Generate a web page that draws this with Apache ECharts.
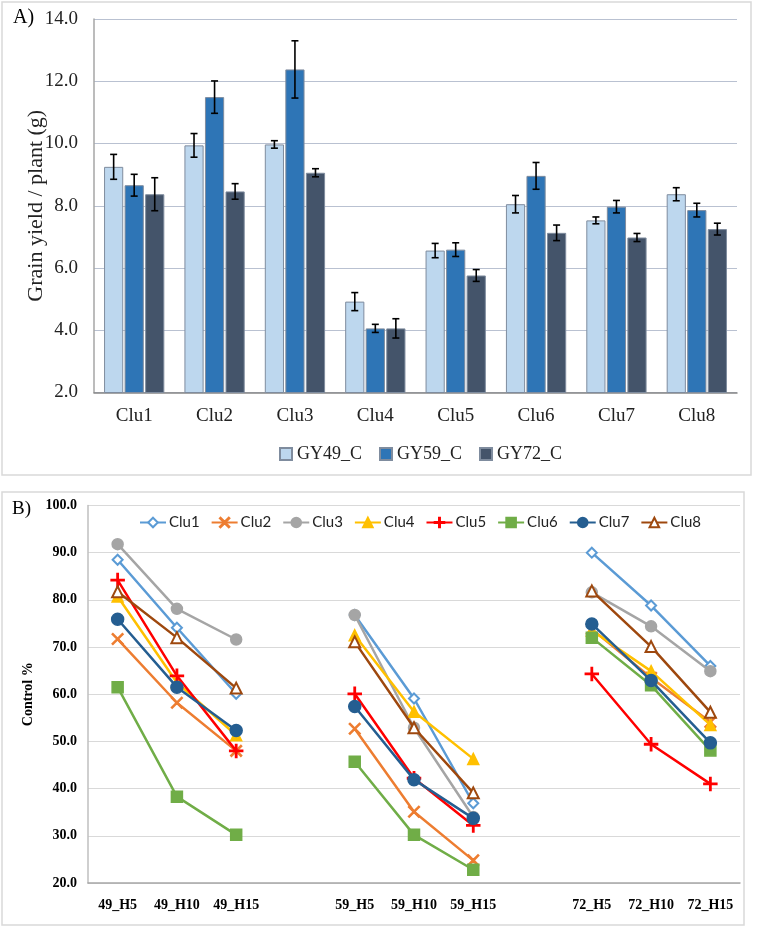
<!DOCTYPE html>
<html>
<head>
<meta charset="utf-8">
<script src="https://cdn.jsdelivr.net/npm/echarts@6/dist/echarts.min.js"></script>
<style>html,body{margin:0;padding:0;background:#fff}#c{width:758px;height:928px}</style>
</head>
<body>
<div id="c"></div>
<script>
// ---- Panel A data ----
const categories = ['Clu1','Clu2','Clu3','Clu4','Clu5','Clu6','Clu7','Clu8'];
const gy49 = [9.25, 9.94, 9.97, 4.92, 6.56, 8.05, 7.53, 8.37];
const gy49Err = [0.40, 0.38, 0.12, 0.29, 0.23, 0.28, 0.11, 0.21];
const gy59 = [8.66, 11.49, 12.38, 4.06, 6.59, 8.96, 7.97, 7.86];
const gy59Err = [0.35, 0.52, 0.92, 0.13, 0.22, 0.43, 0.20, 0.22];
const gy72 = [8.37, 8.46, 9.06, 4.06, 5.76, 7.13, 6.98, 7.25];
const gy72Err = [0.53, 0.25, 0.13, 0.31, 0.19, 0.25, 0.13, 0.19];
const barNames = ['GY49_C','GY59_C','GY72_C'];

// ---- Panel B data ----
const stages = ['49_H5','49_H10','49_H15','','59_H5','59_H10','59_H15','','72_H5','72_H10','72_H15'];
const clu1 = [88.5,74.1,60.1,null,76.8,59.1,36.9,null,90.0,78.8,66.0];
const clu2 = [71.7,58.2,48.0,null,52.7,35.1,24.8,null,73.8,63.5,54.1];
const clu3 = [91.8,78.1,71.6,null,76.8,52.9,34.0,null,81.6,74.4,64.9];
const clu4 = [80.7,62.5,51.3,null,72.5,56.3,46.3,null,73.5,64.9,53.5];
const clu5 = [84.2,63.9,48.0,null,60.1,42.2,32.2,null,64.3,49.4,41.0];
const clu6 = [61.5,38.3,30.2,null,45.7,30.2,22.8,null,72.0,61.9,48.1];
const clu7 = [75.9,61.5,52.3,null,57.4,41.9,33.7,null,74.9,62.9,49.7];
const clu8 = [81.7,72.0,61.3,null,71.1,52.9,39.1,null,81.9,70.1,56.2];
const lineNames = ['Clu1','Clu2','Clu3','Clu4','Clu5','Clu6','Clu7','Clu8'];

const SERIF = '"Liberation Serif","Times New Roman",serif';
const SANS = 'Lato,"Liberation Sans",sans-serif';
const barColors = ['#BDD7EE','#2E75B6','#44546A'];
const CAT_GAP = 0.25, BAR_GAP = 0.07;

function errSeries(vals, errs, idx) {
  return {
    type: 'custom', xAxisIndex: 0, yAxisIndex: 0, z: 5, silent: true,
    data: vals.map((v, i) => [i, v, errs[i]]),
    encode: { x: 0, y: 1 },
    renderItem: function (params, api) {
      const i = api.value(0), v = api.value(1), e = api.value(2);
      const band = api.size([1, 0])[0];
      const bw = band * (1 - CAT_GAP) / (3 + 2 * BAR_GAP);
      const off = (idx - 1) * bw * (1 + BAR_GAP);
      const hi = api.coord([i, v + e]);
      const lo = api.coord([i, v - e]);
      const x = hi[0] + off, c = 3.5;
      const st = { stroke: '#000', lineWidth: 1.6 };
      return { type: 'group', children: [
        { type: 'line', shape: { x1: x, y1: hi[1], x2: x, y2: lo[1] }, style: st },
        { type: 'line', shape: { x1: x - c, y1: hi[1], x2: x + c, y2: hi[1] }, style: st },
        { type: 'line', shape: { x1: x - c, y1: lo[1], x2: x + c, y2: lo[1] }, style: st }
      ]};
    }
  };
}

const xPath = 'path://M0,0.7 L0.7,0 L5,4.3 L9.3,0 L10,0.7 L5.7,5 L10,9.3 L9.3,10 L5,5.7 L0.7,10 L0,9.3 L4.3,5 Z';
const plusPath = 'path://M4.5,0 H5.5 V4.5 H10 V5.5 H5.5 V10 H4.5 V5.5 H0 V4.5 H4.5 Z';
const lineStyles = [
  { color: '#5B9BD5', symbol: 'emptyDiamond', size: 10 },
  { color: '#ED7D31', symbol: xPath, size: 11 },
  { color: '#A5A5A5', symbol: 'circle', size: 11 },
  { color: '#FFC000', symbol: 'triangle', size: 11 },
  { color: '#FF0000', symbol: plusPath, size: 13 },
  { color: '#70AD47', symbol: 'rect', size: 11 },
  { color: '#255E91', symbol: 'circle', size: 12 },
  { color: '#9E480E', symbol: 'emptyTriangle', size: 11 }
];
const lineData = [clu1, clu2, clu3, clu4, clu5, clu6, clu7, clu8];

const chart = echarts.init(document.getElementById('c'), null, { renderer: 'canvas' });
const series = [];
[gy49, gy59, gy72].forEach((vals, k) => {
  series.push({
    name: barNames[k], type: 'bar', xAxisIndex: 0, yAxisIndex: 0, data: vals,
    barCategoryGap: (CAT_GAP * 100) + '%', barGap: (BAR_GAP * 100) + '%',
    itemStyle: { color: barColors[k], borderColor: '#7F8C9E', borderWidth: 1 }
  });
});
series.push(errSeries(gy49, gy49Err, 0), errSeries(gy59, gy59Err, 1), errSeries(gy72, gy72Err, 2));
lineData.forEach((d, k) => {
  const s = lineStyles[k];
  series.push({
    name: lineNames[k], type: 'line', xAxisIndex: 1, yAxisIndex: 1, data: d,
    symbol: s.symbol, symbolSize: s.size, showAllSymbol: true, connectNulls: false,
    lineStyle: { color: s.color, width: 2.5 },
    itemStyle: { color: s.color, borderColor: s.color, borderWidth: 1.5 },
    z: 3 + k
  });
});

chart.setOption({
  animation: false,
  backgroundColor: '#fff',
  graphic: [
    { type: 'rect', shape: { x: 2, y: 2, width: 749, height: 473 }, style: { fill: 'none', stroke: '#D9D9D9', lineWidth: 1.5 }, z: -1 },
    { type: 'rect', shape: { x: 2, y: 492, width: 742, height: 433 }, style: { fill: 'none', stroke: '#D9D9D9', lineWidth: 1.5 }, z: -1 },
    { type: 'text', left: 13, top: 8, style: { text: 'A)', font: '20px ' + SERIF, fill: '#000' } },
    { type: 'text', left: 12, top: 500, style: { text: 'B)', font: '19px ' + SERIF, fill: '#000' } }
  ],
  legend: [
    { data: barNames, left: 274, top: 440, icon: 'rect', itemWidth: 12, itemHeight: 12, itemGap: 17,
      textStyle: { fontFamily: SERIF, fontSize: 18, color: '#222' } },
    { data: lineNames, left: 134, top: 510, itemWidth: 26, itemHeight: 12, itemGap: 11,
      textStyle: { fontFamily: SANS, fontSize: 15, color: '#222', padding: [0, 0, 0, -2] } }
  ],
  grid: [
    { left: 94, top: 19, right: 21, bottom: 535.5 },
    { left: 88, top: 505.5, right: 18, bottom: 45 }
  ],
  xAxis: [
    { type: 'category', gridIndex: 0, data: categories,
      axisLine: { lineStyle: { color: '#868686', width: 1.5 } }, axisTick: { show: false },
      axisLabel: { fontFamily: SERIF, fontSize: 19, color: '#222', margin: 14 } },
    { type: 'category', gridIndex: 1, data: stages,
      axisLine: { lineStyle: { color: '#A6A6A6', width: 1.5 } }, axisTick: { show: false },
      axisLabel: { fontFamily: SERIF, fontSize: 14, fontWeight: 'bold', color: '#000', margin: 15, interval: 0 } }
  ],
  yAxis: [
    { type: 'value', gridIndex: 0, min: 2, max: 14, interval: 2,
      name: 'Grain yield / plant (g)', nameLocation: 'middle', nameGap: 47, nameMoveOverlap: false,
      nameTextStyle: { fontFamily: SERIF, fontSize: 22, color: '#222' },
      axisLine: { show: true, lineStyle: { color: '#A6A6A6', width: 1.5 } }, axisTick: { show: false },
      splitLine: { lineStyle: { color: '#B9C1D1', width: 1.2 } },
      axisLabel: { fontFamily: SERIF, fontSize: 19, color: '#222', margin: 16, formatter: v => v.toFixed(1) } },
    { type: 'value', gridIndex: 1, min: 20, max: 100, interval: 10,
      name: 'Control %', nameLocation: 'middle', nameGap: 53, nameMoveOverlap: false,
      nameTextStyle: { fontFamily: SERIF, fontSize: 14, fontWeight: 'bold', color: '#000' },
      axisLine: { show: true, lineStyle: { color: '#BFBFBF', width: 1.5 } }, axisTick: { show: false },
      splitLine: { lineStyle: { color: '#D9D9D9', width: 1.2 } },
      axisLabel: { fontFamily: SERIF, fontSize: 14, fontWeight: 'bold', color: '#000', margin: 11, formatter: v => v.toFixed(1) } }
  ],
  series: series
});
</script>
</body>
</html>
